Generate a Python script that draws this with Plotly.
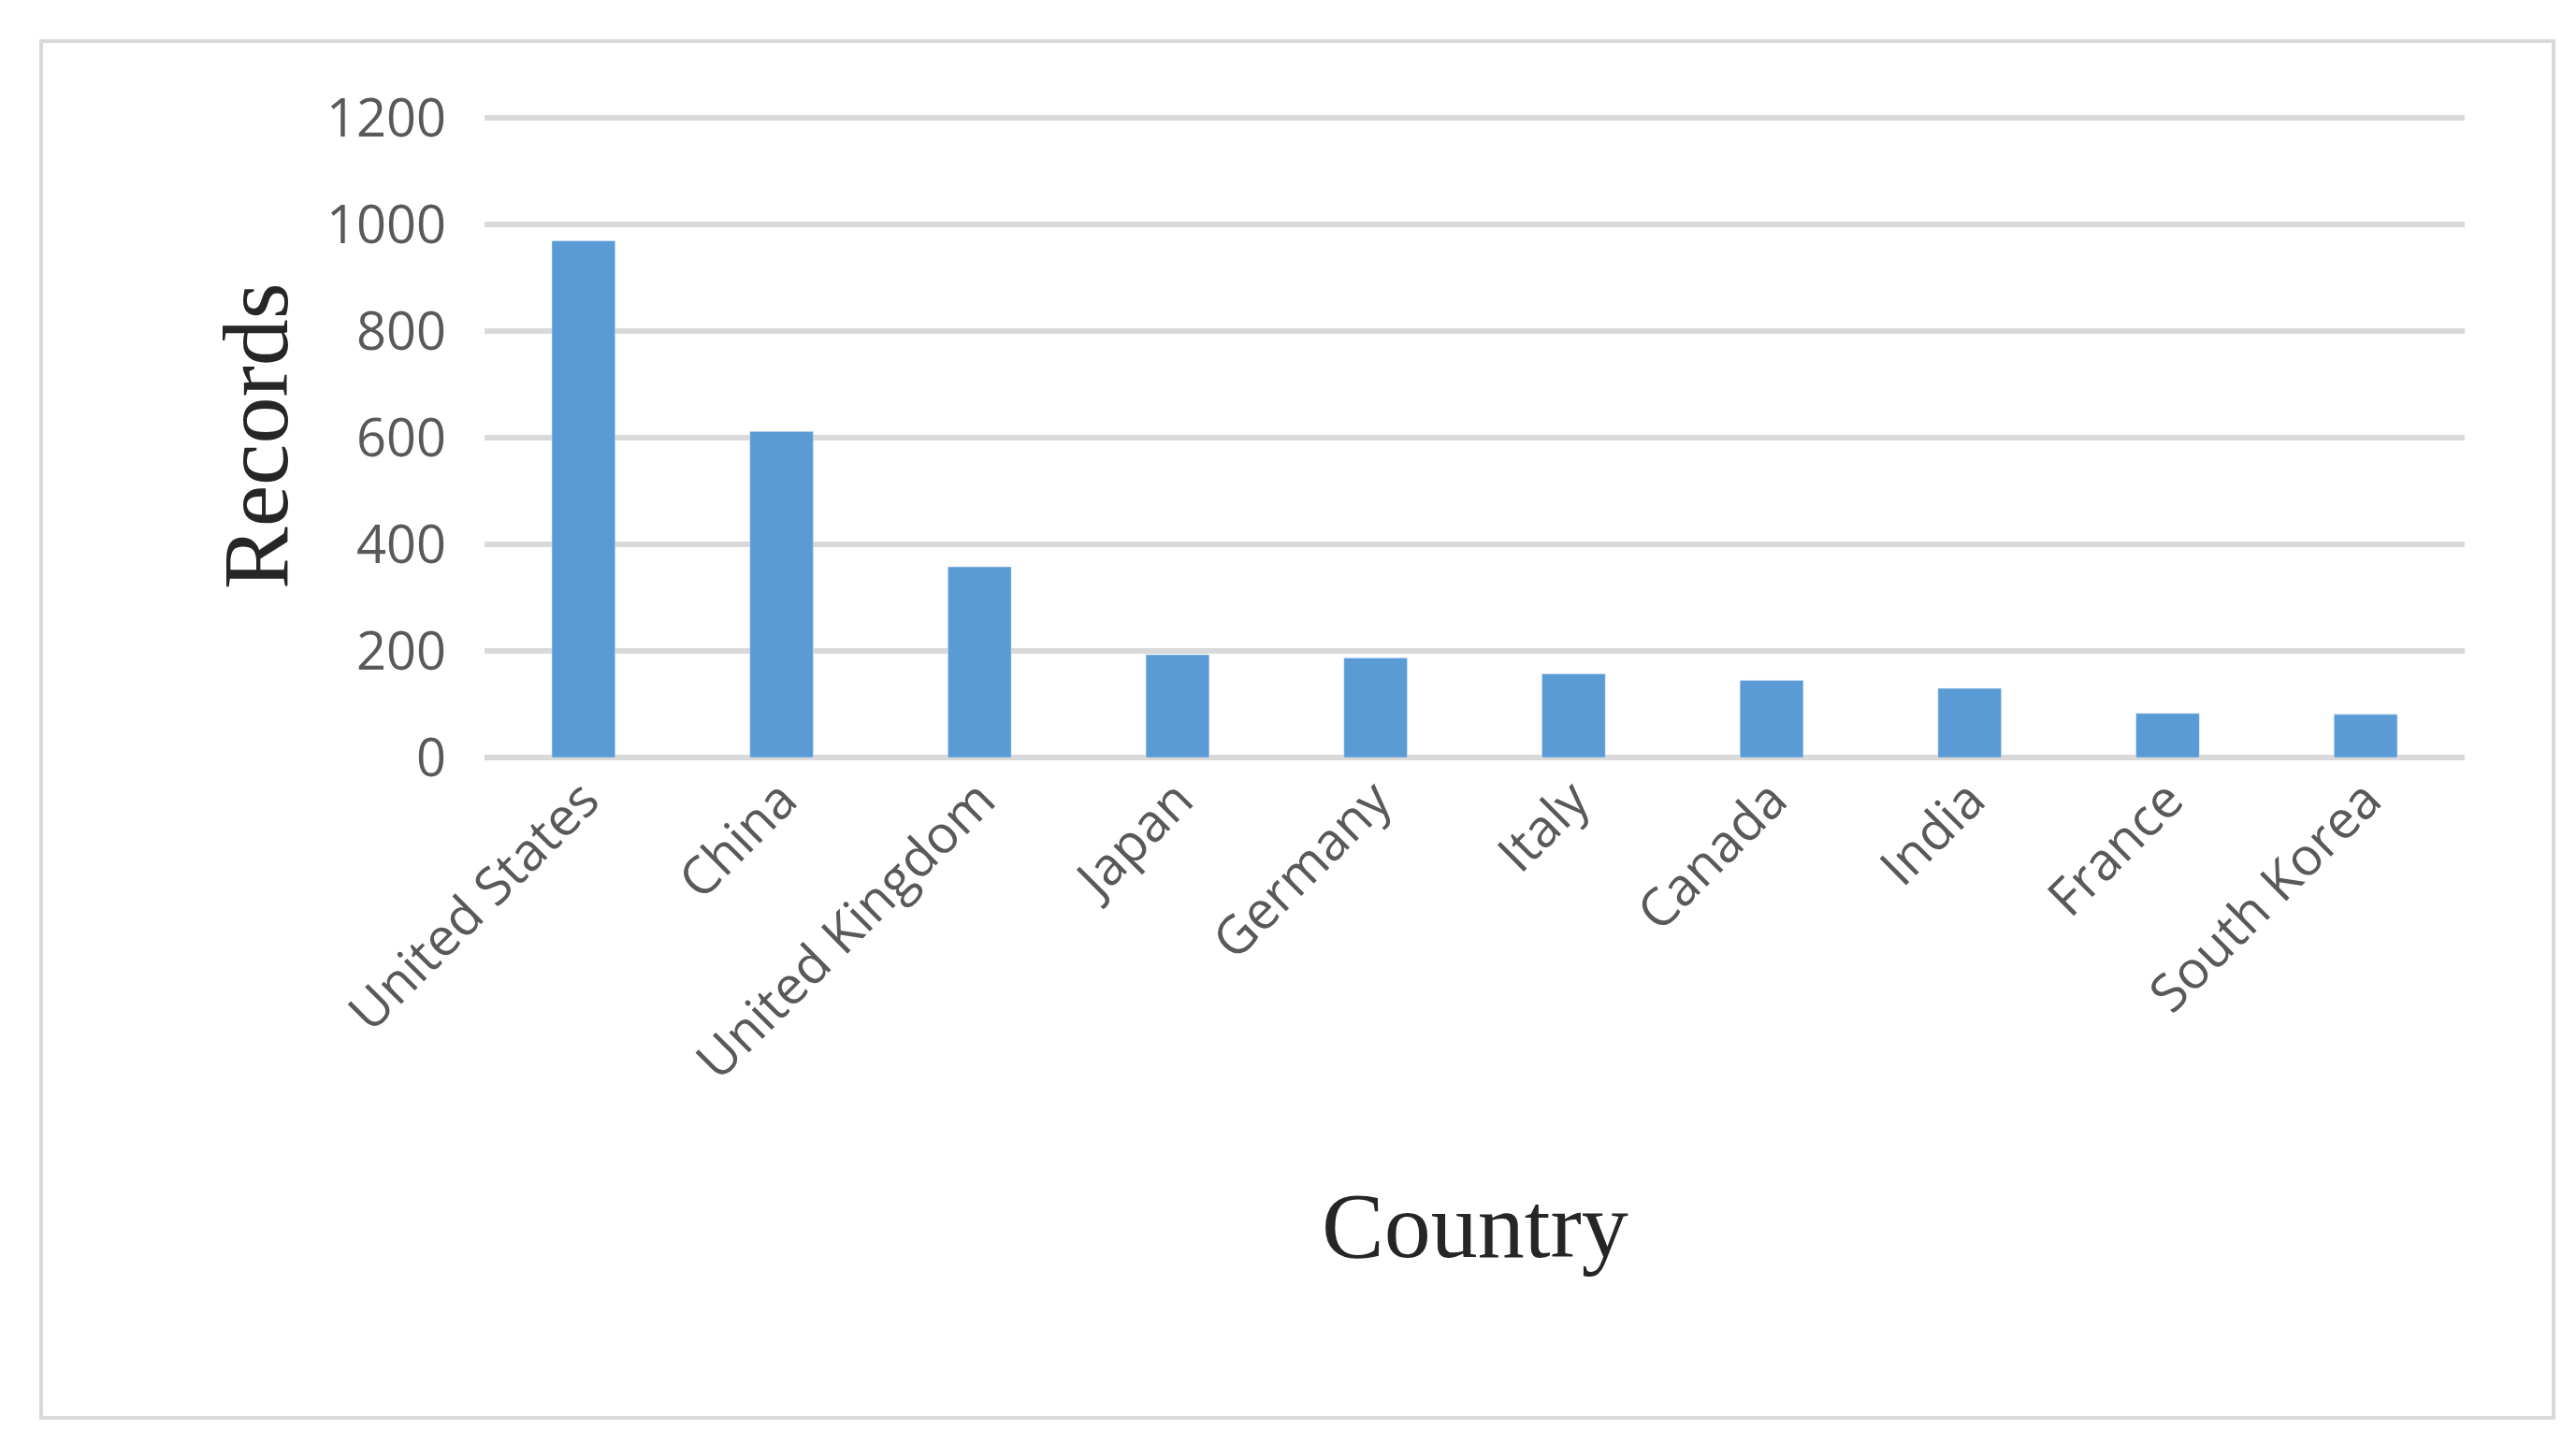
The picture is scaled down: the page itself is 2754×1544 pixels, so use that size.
import plotly.graph_objects as go

countries = ["United States", "China", "United Kingdom", "Japan", "Germany",
             "Italy", "Canada", "India", "France", "South Korea"]
records = [970, 612, 358, 193, 187, 157, 145, 130, 83, 81]
yticks = [0, 200, 400, 600, 800, 1000, 1200]

W, H = 2754, 1544
L, R, T, B = 510, 2627, 115, 802
pw, ph = R - L, B - T

fig = go.Figure(go.Bar(x=countries, y=records, marker_color="#5B9BD5", width=0.32))

def px_x(x): return (x - L) / pw
def px_y(y): return (B - y) / ph

fig.update_layout(
    width=W, height=H, paper_bgcolor="white", plot_bgcolor="white",
    margin=dict(l=L, r=W - R, t=T, b=H - B), showlegend=False,
    font=dict(family="Open Sans", color="#595959"),
    xaxis=dict(tickangle=-45, tickfont=dict(size=56, color="#595959"),
               showgrid=False, showline=False, ticks=""),
    yaxis=dict(range=[0, 1206], tickvals=yticks, tickfont=dict(size=56, color="#595959"),
               gridcolor="#D9D9D9", gridwidth=6, zeroline=True, zerolinecolor="#D9D9D9",
               zerolinewidth=6, ticks="", ticklabelstandoff=40),
    shapes=[dict(type="rect", xref="paper", yref="paper",
                 x0=px_x(36), x1=px_x(2722), y0=px_y(1508), y1=px_y(36),
                 line=dict(color="#D9D9D9", width=4))],
    annotations=[
        dict(text="Country", xref="paper", yref="paper", x=0.5, y=px_y(1360),
             showarrow=False, font=dict(family="Liberation Serif", size=100, color="#262626")),
        dict(text="Records", xref="paper", yref="paper", x=px_x(208), y=0.5, textangle=-90,
             showarrow=False, font=dict(family="Liberation Serif", size=100, color="#262626")),
    ],
)
fig.write_html("out.html")
